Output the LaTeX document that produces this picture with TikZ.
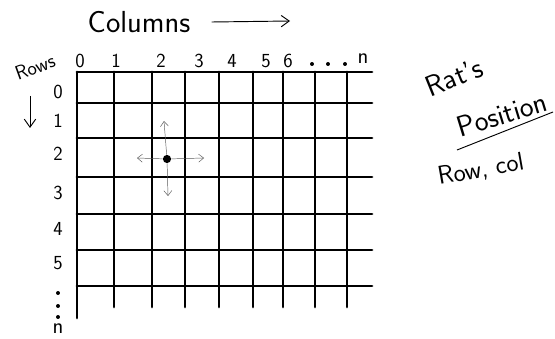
\documentclass[tikz,border=0pt]{standalone}
\usetikzlibrary{arrows.meta,positioning}
\renewcommand{\familydefault}{\sfdefault}
\tikzset{
    maze diagram/.style = {x=0.03cm, y=-0.03cm, >={Straight Barb[length=2.4mm, width=3.4mm]}},
    gridline/.style     = {line width=2.5pt, line cap=round},
    move/.style         = {->, thin, draw=black!65,
                           >={Straight Barb[length=1.5mm, width=2.4mm]}},
    hand/.style         = {->, thick},
    idx/.style          = {font=\fontsize{17}{17}\selectfont, inner sep=0pt},
    nidx/.style         = {font=\fontsize{19}{19}\selectfont, inner sep=0pt},
    title/.style        = {font=\fontsize{26}{26}\selectfont, inner sep=0pt},
    note/.style         = {font=\fontsize{25}{25}\selectfont, inner sep=0pt},
    dotmark/.style      = {circle, fill, inner sep=0pt, minimum size=3.4pt},
    rat/.style          = {circle, fill, inner sep=0pt, minimum size=7pt}
}

\begin{document}
\begin{tikzpicture}[maze diagram]
\useasboundingbox (0,0) rectangle (555,339);

% ================= Titles =================
\node[title] (coltitle) at (139,22) {Columns};
\coordinate (colarrowend) at (290,21);
\draw[hand] ([xshift=18pt]coltitle.east) -- (colarrowend);

\node[title, font=\fontsize{17}{17}\selectfont, rotate=20] (rowtitle) at (35,67) {Rows};
\coordinate (rowarrowtop) at (30,96);
\coordinate (rowarrowbot) at (30,128);
\draw[hand] (rowarrowtop) -- (rowarrowbot);

% ================= Grid =================
\foreach \y in {72,103,138,177,214,250,286}
    \draw[gridline] (77,\y) -- (372,\y);
\foreach \x in {114,152,185,219,253,283,315,347}
    \draw[gridline] (\x,72) -- (\x,307);
\draw[gridline] (77,72) -- (77,318);

% ================= Column indices =================
\foreach \lab/\x in {0/80,1/116,2/161,3/199,4/232,5/266,6/288}
    \node[idx] (c\lab) at (\x,61) {\lab};
\foreach \i/\x in {1/312,2/328,3/345}
    \node[dotmark] (cdot\i) at (\x,64) {};
\node[nidx] (cn) at (363,59) {n};

% ================= Row indices =================
\foreach \lab/\y in {0/92,1/121,2/154,3/193,4/229,5/263}
    \node[idx] (r\lab) at (58,\y) {\lab};
\foreach \i/\y in {1/293,2/306,3/317}
    \node[dotmark] (rdot\i) at (58,\y) {};
\node[nidx] (rn) at (58,329) {n};

% ================= Rat and its moves =================
\node[rat] (rat) at (167,159) {};
\coordinate (moveup) at (164,121);
\coordinate (movedown) at (168,196);
\coordinate (moveleft) at (137,158);
\coordinate (moveright) at (204,158);
\draw[move] (rat) -- (moveup);
\draw[move] (rat) -- (movedown);
\draw[move] (rat) -- (moveleft);
\draw[move] (rat) -- (moveright);

% ================= Position note =================
\node[note, rotate=22] (ratlab) at (454,77) {Rat's};
\node[note, rotate=17] (poslab) at (502,114) {Position};
\coordinate (ruleleft) at (457,150);
\coordinate (ruleright) at (553,112);
\draw[thick] (ruleleft) -- (ruleright);
\node[note, font=\fontsize{22}{22}\selectfont, rotate=10] (rowcol) at (481,170) {Row, col};

\end{tikzpicture}
\end{document}
